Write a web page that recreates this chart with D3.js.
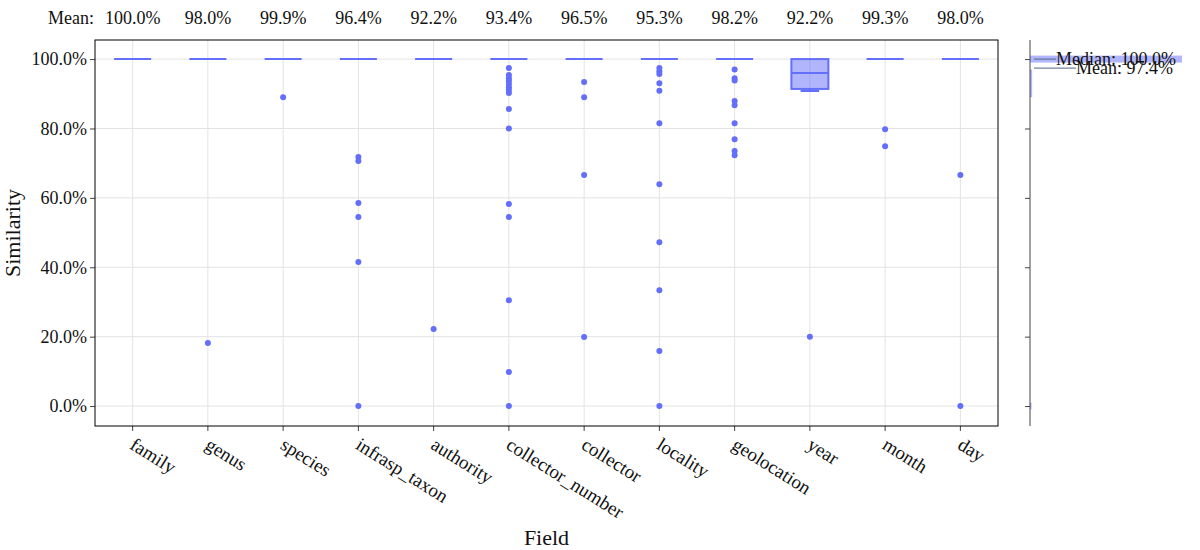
<!DOCTYPE html>
<html><head><meta charset="utf-8">
<script src="https://cdn.jsdelivr.net/npm/d3@7"></script>
<style>body{margin:0;background:#fff}svg{font-family:"Liberation Serif","Times New Roman",serif}</style>
</head><body><svg id="c" width="1200" height="550"></svg>
<script>
const categories = ["family","genus","species","infrasp_taxon","authority","collector_number","collector","locality","geolocation","year","month","day"];
const means = [100.0,98.0,99.9,96.4,92.2,93.4,96.5,95.3,98.2,92.2,99.3,98.0];
const q1 =     [100,100,100,100,100,100,100,100,100,91.4,100,100];
const medians =[100,100,100,100,100,100,100,100,100,96.0,100,100];
const q3 =     [100,100,100,100,100,100,100,100,100,100,100,100];
const lowerFence=[100,100,100,100,100,100,100,100,100,90.8,100,100];
const upperFence=[100,100,100,100,100,100,100,100,100,100,100,100];
const outliers = [
  [],
  [18.2],
  [89.0],
  [71.8,70.6,58.5,54.5,41.5,0],
  [22.2],
  [97.4,95.4,94.5,93.7,92.8,91.9,91.1,90.2,85.6,80.0,58.2,54.5,30.5,9.8,0],
  [93.4,89.0,66.6,19.9],
  [97.4,96.5,95.7,93.0,90.9,81.5,63.9,47.2,33.4,15.9,0],
  [97.0,94.5,93.8,87.9,86.7,81.5,76.9,73.5,72.3],
  [20.0],
  [79.8,74.9],
  [66.6,0]
];
const yTicks = [0,20,40,60,80,100];
const histCenters = [100,96,94,92,90,0];
const histCounts  = [1000,14,14,14,14,10];
const overallMedian = 100.0, overallMean = 97.4;

const svg = d3.select("#c");
const L=95,R=998,T=40,B=426;
const x = d3.scaleBand().domain(categories).range([L,R]);
const y = d3.scaleLinear().domain([-5.75,105.5]).range([B,T]);
const col = "#636efa";

// grid
svg.append("g").selectAll("line").data(yTicks).join("line")
  .attr("x1",L).attr("x2",R).attr("y1",d=>y(d)).attr("y2",d=>y(d))
  .attr("stroke","#e3e3e3").attr("stroke-width",1);
svg.append("g").selectAll("line").data(categories).join("line")
  .attr("x1",d=>x(d)+x.bandwidth()/2).attr("x2",d=>x(d)+x.bandwidth()/2).attr("y1",T).attr("y2",B)
  .attr("stroke","#e3e3e3").attr("stroke-width",1);

// axes
const yAx = svg.append("g").attr("transform",`translate(${L},0)`)
  .call(d3.axisLeft(y).tickValues(yTicks).tickFormat(d=>d.toFixed(1)+"%").tickSize(5).tickPadding(3));
yAx.select(".domain").remove();
yAx.selectAll("text").attr("font-size",18).attr("font-family","Liberation Serif").attr("fill","#111");
yAx.selectAll("line").attr("stroke","#444");

const xAx = svg.append("g").attr("transform",`translate(0,${B})`)
  .call(d3.axisBottom(x).tickSize(5).tickPadding(0));
xAx.select(".domain").remove();
xAx.selectAll("line").attr("stroke","#444");
xAx.selectAll("text").attr("font-size",19).attr("font-family","Liberation Serif").attr("fill","#111")
  .attr("text-anchor","start").attr("dy",0).attr("y",0)
  .attr("transform","translate(-4,22) rotate(32)");

svg.append("rect").attr("x",L).attr("y",T).attr("width",R-L).attr("height",B-T)
  .attr("fill","none").attr("stroke","#000").attr("stroke-width",1);

// boxes
const bw = 37;
const g = svg.append("g");
categories.forEach((c,i)=>{
  const cx = x(c)+x.bandwidth()/2;
  const gg = g.append("g");
  gg.append("line").attr("x1",cx).attr("x2",cx).attr("y1",y(q1[i])).attr("y2",y(lowerFence[i])).attr("stroke",col).attr("stroke-width",2);
  gg.append("line").attr("x1",cx).attr("x2",cx).attr("y1",y(q3[i])).attr("y2",y(upperFence[i])).attr("stroke",col).attr("stroke-width",2);
  if(lowerFence[i]<q1[i]) gg.append("line").attr("x1",cx-bw/4).attr("x2",cx+bw/4).attr("y1",y(lowerFence[i])).attr("y2",y(lowerFence[i])).attr("stroke",col).attr("stroke-width",2);
  gg.append("rect").attr("x",cx-bw/2).attr("width",bw).attr("y",y(q3[i])).attr("height",y(q1[i])-y(q3[i]))
    .attr("fill","rgba(99,110,250,0.5)").attr("stroke",col).attr("stroke-width",2);
  gg.append("line").attr("x1",cx-bw/2).attr("x2",cx+bw/2).attr("y1",y(medians[i])).attr("y2",y(medians[i])).attr("stroke",col).attr("stroke-width",2);
  gg.selectAll("circle").data(outliers[i]).join("circle")
    .attr("cx",cx).attr("cy",d=>y(d)).attr("r",3).attr("fill",col);
});

// mean header
svg.append("text").attr("x",94).attr("y",24).attr("text-anchor","end").attr("font-size",18).attr("fill","#111").text("Mean:");
svg.append("g").selectAll("text").data(categories).join("text")
  .attr("x",d=>x(d)+x.bandwidth()/2).attr("y",24).attr("text-anchor","middle").attr("font-size",18).attr("fill","#111")
  .text((d,i)=>means[i].toFixed(1)+"%");

// axis titles
svg.append("text").attr("transform",`translate(20,${(T+B)/2}) rotate(-90)`).attr("text-anchor","middle").attr("font-size",22).attr("fill","#111").text("Similarity");
svg.append("text").attr("x",(L+R)/2).attr("y",545).attr("text-anchor","middle").attr("font-size",22).attr("fill","#111").text("Field");

// marginal
const mx0 = 1030;
const hx = d3.scaleLinear().domain([0,d3.max(histCounts)]).range([0,152]);
const mAx = svg.append("g").attr("transform",`translate(${mx0},0)`)
  .call(d3.axisLeft(y).tickValues(yTicks).tickFormat("").tickSize(5));
mAx.select(".domain").remove();
mAx.selectAll("line").attr("stroke","#444");
svg.append("g").selectAll("rect").data(histCenters).join("rect")
  .attr("x",mx0).attr("y",d=>y(d+1)).attr("height",d=>y(d-1)-y(d+1))
  .attr("width",(d,i)=>hx(histCounts[i])).attr("fill","rgba(99,110,250,0.5)");
svg.append("line").attr("x1",mx0).attr("x2",mx0).attr("y1",T).attr("y2",B).attr("stroke","#444").attr("stroke-width",1);
svg.append("line").attr("x1",1034).attr("x2",1056).attr("y1",y(overallMedian)).attr("y2",y(overallMedian)).attr("stroke","#506784").attr("stroke-width",1);
svg.append("text").attr("x",1056).attr("y",y(overallMedian)+6).attr("font-size",18).attr("fill","#111").text("Median: "+overallMedian.toFixed(1)+"%");
svg.append("line").attr("x1",1034).attr("x2",1076).attr("y1",y(overallMean)).attr("y2",y(overallMean)).attr("stroke","#506784").attr("stroke-width",1);
svg.append("text").attr("x",1076).attr("y",y(overallMean)+6).attr("font-size",18).attr("fill","#111").text("Mean: "+overallMean.toFixed(1)+"%");
</script></body></html>
